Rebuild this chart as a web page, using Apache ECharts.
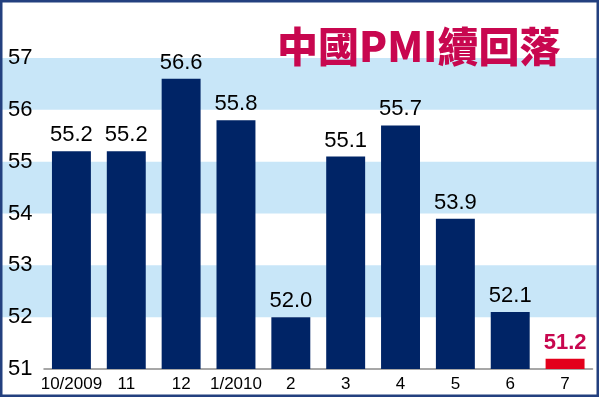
<!DOCTYPE html>
<html><head><meta charset="utf-8">
<script src="https://cdn.jsdelivr.net/npm/echarts@6/dist/echarts.min.js"></script>
<style>html,body{margin:0;padding:0;background:#fff}#c{width:600px;height:398px}</style>
</head><body><div id="c"></div>
<script>
const categories = ['10/2009','11','12','1/2010','2','3','4','5','6','7'];
const pmiValues = [55.2, 55.2, 56.6, 55.8, 52.0, 55.1, 55.7, 53.9, 52.1, 51.2];
const yTicks = [51, 52, 53, 54, 55, 56, 57];
const titleText = '中國PMI續回落';

const NAVY = '#002466', RED = '#E3001B', MAGENTA = '#C8074F', BAND = '#C8E6F8';
const last = pmiValues.length - 1;
const chart = echarts.init(document.getElementById('c'));
chart.setOption({
  animation: false,
  backgroundColor: '#fff',
  title: { text: titleText, left: 272, top: 21,
    textStyle: { color: MAGENTA, fontSize: 41, fontWeight: 900, fontFamily: 'Noto Sans CJK TC' } },
  grid: [
    { left: 2, right: 3, top: 58, bottom: 29, outerBoundsMode: 'none', containLabel: false },
    { left: 44, right: 7.5, top: 58, bottom: 29, outerBoundsMode: 'none', containLabel: false }
  ],
  xAxis: [
    { gridIndex: 0, type: 'value', min: 0, max: 1, show: false },
    { gridIndex: 1, type: 'category', data: categories,
      axisLine: { lineStyle: { color: '#8a8a8a', width: 1.5 } }, axisTick: { show: false },
      axisLabel: { color: '#000', fontSize: 17, fontFamily: 'Liberation Sans, Arial, sans-serif', margin: 7, interval: 0, hideOverlap: false } }
  ],
  yAxis: [
    { gridIndex: 0, type: 'value', min: yTicks[0], max: yTicks[yTicks.length-1], interval: 1,
      axisLine: { show: false }, axisTick: { show: false }, splitLine: { show: false },
      splitArea: { show: true, areaStyle: { color: ['rgba(255,255,255,0)', BAND] } },
      axisLabel: { show: false } },
    { gridIndex: 1, type: 'value', min: yTicks[0], max: yTicks[yTicks.length-1], interval: 1,
      axisLine: { show: false }, axisTick: { show: false }, splitLine: { show: false },
      axisLabel: { color: '#000', fontSize: 22, fontFamily: 'Liberation Sans, Arial, sans-serif', align: 'left', margin: 36 } }
  ],
  series: [{
    type: 'bar', xAxisIndex: 1, yAxisIndex: 1, barCategoryGap: '29%',
    data: pmiValues.map((v, i) => i === last ? {
      value: v, itemStyle: { color: RED },
      label: { color: MAGENTA, fontWeight: 'bold' } } : v),
    itemStyle: { color: NAVY },
    label: { show: true, position: 'top', distance: 5, color: '#000', fontSize: 22,
      fontFamily: 'Liberation Sans, Arial, sans-serif', formatter: p => p.value.toFixed(1) }
  }],
  graphic: [{ type: 'rect', z: 100, shape: { x: 1.25, y: 1.25, width: 596.5, height: 394.5 },
    style: { fill: 'none', stroke: '#23407F', lineWidth: 2.5 } }]
});
</script></body></html>
